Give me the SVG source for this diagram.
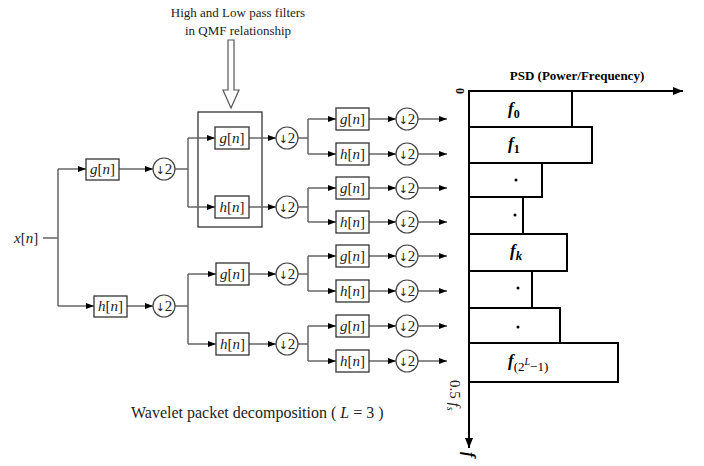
<svg xmlns="http://www.w3.org/2000/svg" width="704" height="466" viewBox="0 0 704 466">
<style>
.w{stroke:#666;stroke-width:1.5;fill:none}
.bx{fill:#fff;stroke:#333;stroke-width:1.3}
.ci{fill:#fff;stroke:#444;stroke-width:1.2}
.t{font-family:"Liberation Serif",serif;fill:#222}
.lb{font-family:"Liberation Serif",serif;font-size:15px;fill:#222;text-anchor:middle}
.dn{font-family:"Liberation Serif",serif;font-size:15px;fill:#222;text-anchor:middle}
.ar{font-family:"DejaVu Sans",sans-serif;font-size:11px}
.bar{fill:#fff;stroke:#000;stroke-width:2}
.bf{font-family:"Liberation Serif",serif;font-weight:bold;fill:#000}
</style>
<defs>
<marker id="ah" viewBox="0 0 8 6" refX="8" refY="3" markerWidth="8" markerHeight="6" markerUnits="userSpaceOnUse" orient="auto"><path d="M0,0L8,3L0,6z" fill="#000"/></marker>
<marker id="ak" viewBox="0 0 10 8" refX="10" refY="4" markerWidth="10" markerHeight="8" markerUnits="userSpaceOnUse" orient="auto"><path d="M0,0L10,4L0,8z" fill="#000"/></marker>
</defs>

<g id="annotation">
<text class="t" x="238" y="17" font-size="13" text-anchor="middle">High and Low pass filters</text>
<text class="t" x="238" y="35" font-size="13" text-anchor="middle">in QMF relationship</text>
<polygon points="228,40 234,40 234,90 239,90 231,108 223,90 228,90" fill="#fff" stroke="#555" stroke-width="1.2"/>
<rect x="198" y="112" width="64" height="115" fill="none" stroke="#333" stroke-width="1.3"/>
</g>

<g id="connectors">
<path class="w" d="M43,238H58M58,169V306"/>
<path class="w" d="M58,169H86" marker-end="url(#ah)"/>
<path class="w" d="M58,306H94" marker-end="url(#ah)"/>
<path class="w" d="M119,169H153" marker-end="url(#ah)"/>
<path class="w" d="M127,306H153" marker-end="url(#ah)"/>
<path class="w" d="M175,169H188M188,138V207M175,306H188M188,274V344"/>
<path class="w" d="M188,138H215" marker-end="url(#ah)"/>
<path class="w" d="M188,207H215" marker-end="url(#ah)"/>
<path class="w" d="M188,274H216" marker-end="url(#ah)"/>
<path class="w" d="M188,344H216" marker-end="url(#ah)"/>
<path class="w" d="M249,138H276" marker-end="url(#ah)"/>
<path class="w" d="M249,207H276" marker-end="url(#ah)"/>
<path class="w" d="M249,274H276" marker-end="url(#ah)"/>
<path class="w" d="M249,344H276" marker-end="url(#ah)"/>
<path class="w" d="M298,138H308M308,119V154M298,207H308M308,188V222M298,274H308M308,256V291M298,344H308M308,326V361"/>
<path class="w" d="M308,119H336" marker-end="url(#ah)"/>
<path class="w" d="M308,154H336" marker-end="url(#ah)"/>
<path class="w" d="M308,188H336" marker-end="url(#ah)"/>
<path class="w" d="M308,222H336" marker-end="url(#ah)"/>
<path class="w" d="M308,256H336" marker-end="url(#ah)"/>
<path class="w" d="M308,291H336" marker-end="url(#ah)"/>
<path class="w" d="M308,326H336" marker-end="url(#ah)"/>
<path class="w" d="M308,361H336" marker-end="url(#ah)"/>
<path class="w" d="M369,119H396" marker-end="url(#ah)"/>
<path class="w" d="M369,154H396" marker-end="url(#ah)"/>
<path class="w" d="M369,188H396" marker-end="url(#ah)"/>
<path class="w" d="M369,222H396" marker-end="url(#ah)"/>
<path class="w" d="M369,256H396" marker-end="url(#ah)"/>
<path class="w" d="M369,291H396" marker-end="url(#ah)"/>
<path class="w" d="M369,326H396" marker-end="url(#ah)"/>
<path class="w" d="M369,361H396" marker-end="url(#ah)"/>
<path class="w" d="M418,119H447" marker-end="url(#ah)"/>
<path class="w" d="M418,154H447" marker-end="url(#ah)"/>
<path class="w" d="M418,188H447" marker-end="url(#ah)"/>
<path class="w" d="M418,222H447" marker-end="url(#ah)"/>
<path class="w" d="M418,256H447" marker-end="url(#ah)"/>
<path class="w" d="M418,291H447" marker-end="url(#ah)"/>
<path class="w" d="M418,326H447" marker-end="url(#ah)"/>
<path class="w" d="M418,361H447" marker-end="url(#ah)"/>
</g>

<g id="input"><text class="t" x="14" y="243" font-size="15"><tspan font-style="italic">x</tspan>[<tspan font-style="italic">n</tspan>]</text></g>

<g id="g1"><rect class="bx" x="86" y="159" width="33" height="21"/><text class="lb" x="102.5" y="174"><tspan font-style="italic">g</tspan>[<tspan font-style="italic">n</tspan>]</text></g>
<g id="h1"><rect class="bx" x="94" y="296" width="33" height="21"/><text class="lb" x="110.5" y="311"><tspan font-style="italic">h</tspan>[<tspan font-style="italic">n</tspan>]</text></g>
<g id="d1a"><circle class="ci" cx="164" cy="169" r="11"/><text class="dn" x="164" y="174"><tspan class="ar">↓</tspan>2</text></g>
<g id="d1b"><circle class="ci" cx="164" cy="306" r="11"/><text class="dn" x="164" y="311"><tspan class="ar">↓</tspan>2</text></g>

<g id="g2a"><rect class="bx" x="215" y="127" width="34" height="22"/><text class="lb" x="232" y="143"><tspan font-style="italic">g</tspan>[<tspan font-style="italic">n</tspan>]</text></g>
<g id="h2a"><rect class="bx" x="215" y="196" width="34" height="22"/><text class="lb" x="232" y="212"><tspan font-style="italic">h</tspan>[<tspan font-style="italic">n</tspan>]</text></g>
<g id="g2b"><rect class="bx" x="216" y="263" width="33" height="22"/><text class="lb" x="232.5" y="279"><tspan font-style="italic">g</tspan>[<tspan font-style="italic">n</tspan>]</text></g>
<g id="h2b"><rect class="bx" x="216" y="333" width="33" height="22"/><text class="lb" x="232.5" y="349"><tspan font-style="italic">h</tspan>[<tspan font-style="italic">n</tspan>]</text></g>
<g id="d2a"><circle class="ci" cx="287" cy="138" r="11"/><text class="dn" x="287" y="143"><tspan class="ar">↓</tspan>2</text></g>
<g id="d2b"><circle class="ci" cx="287" cy="207" r="11"/><text class="dn" x="287" y="212"><tspan class="ar">↓</tspan>2</text></g>
<g id="d2c"><circle class="ci" cx="287" cy="274" r="11"/><text class="dn" x="287" y="279"><tspan class="ar">↓</tspan>2</text></g>
<g id="d2d"><circle class="ci" cx="287" cy="344" r="11"/><text class="dn" x="287" y="349"><tspan class="ar">↓</tspan>2</text></g>

<g id="g3a"><rect class="bx" x="336" y="108" width="33" height="22"/><text class="lb" x="352.5" y="124"><tspan font-style="italic">g</tspan>[<tspan font-style="italic">n</tspan>]</text></g>
<g id="h3a"><rect class="bx" x="336" y="143" width="33" height="22"/><text class="lb" x="352.5" y="159"><tspan font-style="italic">h</tspan>[<tspan font-style="italic">n</tspan>]</text></g>
<g id="g3b"><rect class="bx" x="336" y="177" width="33" height="22"/><text class="lb" x="352.5" y="193"><tspan font-style="italic">g</tspan>[<tspan font-style="italic">n</tspan>]</text></g>
<g id="h3b"><rect class="bx" x="336" y="211" width="33" height="22"/><text class="lb" x="352.5" y="227"><tspan font-style="italic">h</tspan>[<tspan font-style="italic">n</tspan>]</text></g>
<g id="g3c"><rect class="bx" x="336" y="245" width="33" height="22"/><text class="lb" x="352.5" y="261"><tspan font-style="italic">g</tspan>[<tspan font-style="italic">n</tspan>]</text></g>
<g id="h3c"><rect class="bx" x="336" y="280" width="33" height="22"/><text class="lb" x="352.5" y="296"><tspan font-style="italic">h</tspan>[<tspan font-style="italic">n</tspan>]</text></g>
<g id="g3d"><rect class="bx" x="336" y="315" width="33" height="22"/><text class="lb" x="352.5" y="331"><tspan font-style="italic">g</tspan>[<tspan font-style="italic">n</tspan>]</text></g>
<g id="h3d"><rect class="bx" x="336" y="350" width="33" height="22"/><text class="lb" x="352.5" y="366"><tspan font-style="italic">h</tspan>[<tspan font-style="italic">n</tspan>]</text></g>

<g id="d3a"><circle class="ci" cx="407" cy="119" r="11"/><text class="dn" x="407" y="124"><tspan class="ar">↓</tspan>2</text></g>
<g id="d3b"><circle class="ci" cx="407" cy="154" r="11"/><text class="dn" x="407" y="159"><tspan class="ar">↓</tspan>2</text></g>
<g id="d3c"><circle class="ci" cx="407" cy="188" r="11"/><text class="dn" x="407" y="193"><tspan class="ar">↓</tspan>2</text></g>
<g id="d3d"><circle class="ci" cx="407" cy="222" r="11"/><text class="dn" x="407" y="227"><tspan class="ar">↓</tspan>2</text></g>
<g id="d3e"><circle class="ci" cx="407" cy="256" r="11"/><text class="dn" x="407" y="261"><tspan class="ar">↓</tspan>2</text></g>
<g id="d3f"><circle class="ci" cx="407" cy="291" r="11"/><text class="dn" x="407" y="296"><tspan class="ar">↓</tspan>2</text></g>
<g id="d3g"><circle class="ci" cx="407" cy="326" r="11"/><text class="dn" x="407" y="331"><tspan class="ar">↓</tspan>2</text></g>
<g id="d3h"><circle class="ci" cx="407" cy="361" r="11"/><text class="dn" x="407" y="366"><tspan class="ar">↓</tspan>2</text></g>

<g id="caption"><text class="t" x="131" y="418" font-size="16">Wavelet packet decomposition ( <tspan font-style="italic">L</tspan> = 3 )</text></g>

<g id="psd">
<text class="bf" x="577" y="80" font-size="13" text-anchor="middle">PSD (Power/Frequency)</text>
<rect class="bar" x="469" y="91" width="103" height="36"/>
<rect class="bar" x="469" y="127" width="123" height="36"/>
<rect class="bar" x="469" y="163" width="73" height="34"/>
<rect class="bar" x="469" y="197" width="54" height="37"/>
<rect class="bar" x="469" y="234" width="98" height="37"/>
<rect class="bar" x="469" y="271" width="63" height="37"/>
<rect class="bar" x="469" y="308" width="91" height="35"/>
<rect class="bar" x="469" y="343" width="149" height="39"/>
<path d="M469,91H683" stroke="#000" stroke-width="2" fill="none" marker-end="url(#ak)"/>
<path d="M469,91V448" stroke="#000" stroke-width="2" fill="none" marker-end="url(#ak)"/>
<text class="bf" x="508" y="114" font-size="17" font-style="italic">f<tspan font-size="12" font-style="normal" dy="4">0</tspan></text>
<text class="bf" x="508" y="149" font-size="17" font-style="italic">f<tspan font-size="12" font-style="normal" dy="4">1</tspan></text>
<circle cx="516" cy="180" r="1.5" fill="#000"/>
<circle cx="515" cy="215" r="1.5" fill="#000"/>
<text class="bf" x="510" y="256" font-size="17" font-style="italic">f<tspan font-size="13" dy="4">k</tspan></text>
<circle cx="518" cy="288" r="1.5" fill="#000"/>
<circle cx="518" cy="327" r="1.5" fill="#000"/>
<text class="bf" x="508" y="366" font-size="17" font-style="italic">f<tspan font-size="13" font-style="normal" font-weight="normal" dy="5">(2</tspan><tspan font-size="10" font-weight="normal" dy="-6">L</tspan><tspan font-size="13" font-style="normal" font-weight="normal" dy="6">−1)</tspan></text>
<text class="bf" transform="translate(456,88) rotate(90)" font-size="12">0</text>
<text class="t" transform="translate(450,380) rotate(90)" font-size="15">0.5 <tspan font-style="italic">f</tspan><tspan font-size="10" dy="3" font-style="italic">s</tspan></text>
<text class="bf" transform="translate(464,452) rotate(90)" font-size="16" font-style="italic">f</text>
</g>
</svg>
